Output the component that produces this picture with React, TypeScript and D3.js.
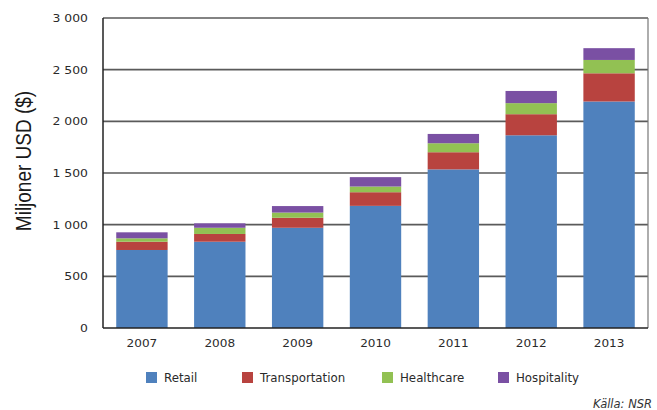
import React from "react";
import * as d3 from "d3";

const years = ["2007", "2008", "2009", "2010", "2011", "2012", "2013"];
const seriesNames = ["Retail", "Transportation", "Healthcare", "Hospitality"];
const retail = [755, 835, 970, 1182, 1535, 1865, 2192];
const transportation = [80, 75, 97, 132, 166, 204, 273];
const healthcare = [33, 60, 50, 55, 87, 107, 129];
const hospitality = [58, 43, 63, 91, 90, 118, 114];
const yTicks = [0, 500, 1000, 1500, 2000, 2500, 3000];
const colors = ["#4F81BD", "#B8433F", "#92C153", "#7A50A3"];

const W = 657;
const H = 410;
const left = 103;
const right = 648;
const top = 18;
const bottom = 328;

export default function App() {
  const x = d3.scaleBand<string>().domain(years).range([left, right]).paddingInner(0.34).paddingOuter(0.17);
  const y = d3.scaleLinear().domain([0, 3000]).range([bottom, top]);
  const rows = years.map((yr, i) => ({
    year: yr,
    Retail: retail[i],
    Transportation: transportation[i],
    Healthcare: healthcare[i],
    Hospitality: hospitality[i],
  }));
  const stack = d3.stack<any>().keys(seriesNames)(rows);
  const fmt = (v: number) => (v >= 1000 ? `${Math.floor(v / 1000)} ${String(v % 1000).padStart(3, "0")}` : String(v));
  const tickFont = "DejaVu Sans, Verdana, sans-serif";
  const legendX = [146, 242, 382, 498];
  const sx = 1.15;

  return (
    <svg width={W} height={H} style={{ position: "absolute", left: 0, top: 0, background: "#fff" }}>
      {yTicks.filter((t) => t > 0).map((t) => (
        <line key={t} x1={left} x2={right} y1={y(t)} y2={y(t)} stroke="#5a5a5a" strokeWidth={1.6} />
      ))}
      {stack.map((s, si) => (
        <g key={seriesNames[si]} fill={colors[si]}>
          {s.map((d, i) => (
            <rect key={i} x={x(years[i])} width={x.bandwidth()} y={y(d[1])} height={y(d[0]) - y(d[1])} />
          ))}
        </g>
      ))}
      <line x1={left} x2={left} y1={top} y2={bottom} stroke="#222" strokeWidth={1.5} />
      <line x1={right} x2={right} y1={top} y2={bottom} stroke="#777" strokeWidth={1.2} />
      <line x1={left} x2={right} y1={bottom} y2={bottom} stroke="#222" strokeWidth={1.5} />
      {yTicks.map((t) => (
        <text key={t} transform={`translate(88,${y(t)}) scale(${sx},1)`} dy="0.36em" textAnchor="end" fontFamily={tickFont} fontSize={10.8} fill="#2a2a2a">
          {fmt(t)}
        </text>
      ))}
      {years.map((yr) => (
        <text key={yr} transform={`translate(${(x(yr) as number) + x.bandwidth() / 2},347) scale(${sx},1)`} textAnchor="middle" fontFamily={tickFont} fontSize={10.5} fill="#2a2a2a">
          {yr}
        </text>
      ))}
      <text transform="translate(31,161) scale(1.2,1) rotate(-90)" textAnchor="middle" fontFamily="Liberation Sans, Arial, sans-serif" fontSize={19} fill="#1a1a1a">
        Miljoner USD ($)
      </text>
      {seriesNames.map((n, i) => (
        <g key={n}>
          <rect x={legendX[i]} y={372} width={11} height={11} fill={colors[i]} />
          <text x={legendX[i] + 18} y={382} fontFamily={tickFont} fontSize={11.8} fill="#2a2a2a">
            {n}
          </text>
        </g>
      ))}
      <text x={593} y={408} fontFamily={tickFont} fontSize={11.5} fontStyle="italic" fill="#333">
        Källa: NSR
      </text>
    </svg>
  );
}
